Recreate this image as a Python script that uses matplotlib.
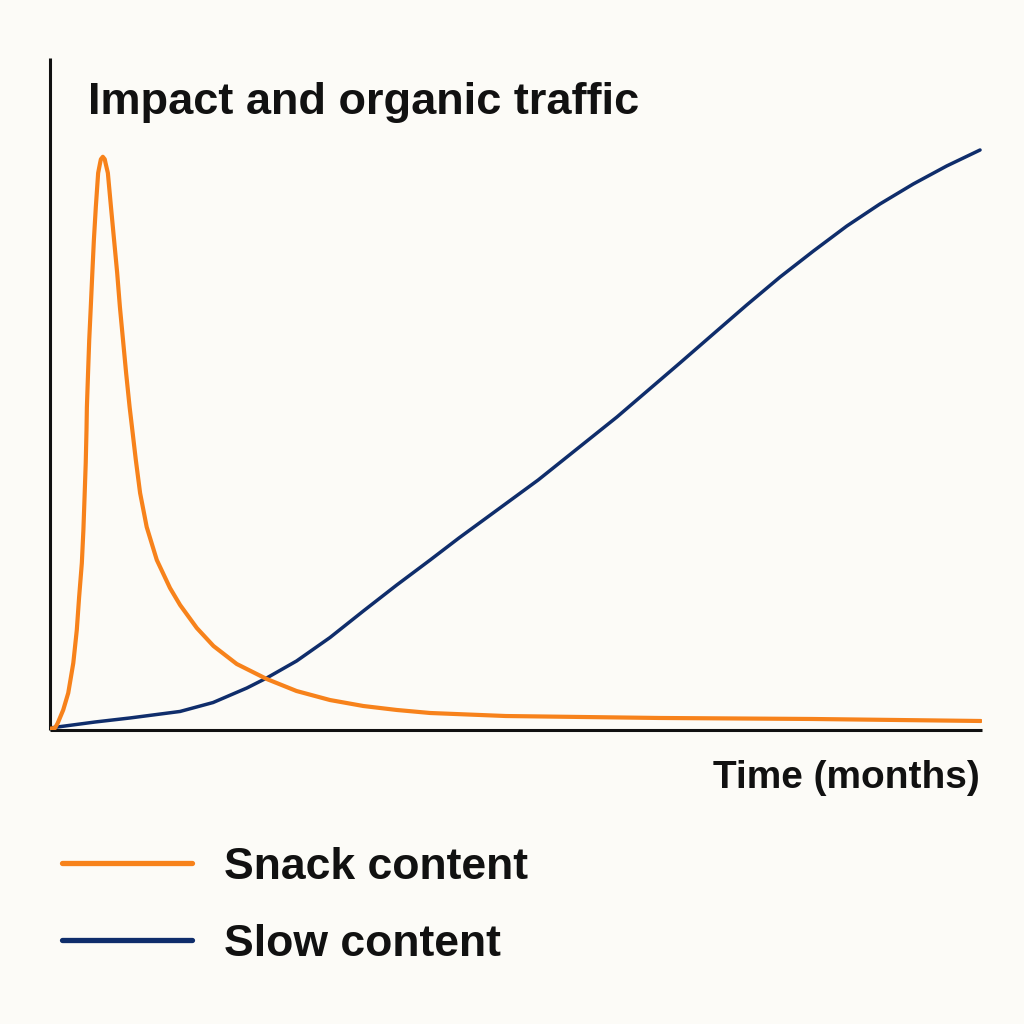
import matplotlib
matplotlib.use("Agg")
from matplotlib import pyplot as plt

# Valores (tempo em meses, impacto em escala 0-100)

snack_x = [0.0, 0.13, 0.20, 0.34, 0.47, 0.60, 0.69, 0.75, 0.82, 0.86, 0.89,
           0.92, 0.94, 0.95, 0.98, 1.01, 1.05, 1.09, 1.13, 1.18, 1.24, 1.29,
           1.31, 1.36, 1.41, 1.43, 1.49, 1.57, 1.65, 1.73, 1.80, 1.88, 1.96,
           2.05, 2.12, 2.21, 2.32, 2.49, 2.75, 3.09, 3.35, 3.78, 4.21, 4.81,
           5.58, 6.35, 7.21, 8.07, 8.93, 9.79, 11.74, 15.68, 19.62, 23.97]
snack_y = [0.2, 0.30, 1.04, 2.98, 5.51, 9.97, 14.88, 19.79, 24.85, 29.76,
           34.67, 39.73, 44.64, 48.07, 53.13, 58.04, 62.95, 68.01, 72.92,
           77.83, 82.89, 84.38, 84.93, 85.30, 84.93, 84.38, 82.89, 77.83,
           72.92, 68.01, 62.95, 58.04, 53.13, 48.07, 44.64, 40.18, 35.27,
           30.21, 25.30, 21.13, 18.60, 15.18, 12.50, 9.82, 7.59, 5.80, 4.46,
           3.57, 2.98, 2.53, 2.08, 1.79, 1.64, 1.34]

slow_x = [0.0, 1.16, 2.06, 3.35, 4.20, 5.07, 5.58, 6.35, 7.21, 8.07, 8.93,
          9.79, 10.53, 12.57, 14.60, 16.22, 17.08, 17.94, 18.80, 19.66,
          20.52, 21.37, 22.23, 23.09, 23.95]
slow_y = [0.3, 1.19, 1.79, 2.76, 4.09, 6.25, 7.74, 10.27, 13.76, 17.71,
          21.58, 25.30, 28.57, 37.20, 46.58, 54.61, 58.93, 63.24, 67.41,
          71.28, 75.00, 78.27, 81.25, 83.93, 86.31]

titulo = "Impact and organic traffic"
eixo_x = "Time (months)"
rotulos = ["Snack content", "Slow content"]

cor_fundo = "#fcfbf7"
cor_snack = "#f7821b"
cor_slow = "#0f2d6b"

plt.rcParams['font.family'] = ['Liberation Sans', 'DejaVu Sans']

fig = plt.figure(figsize=(10.24, 10.24), dpi=100, facecolor=cor_fundo)
W = H = 1024.0
ax = fig.add_axes([50 / W, (H - 730) / H, (982 - 50) / W, (730 - 58) / H])
ax.set_facecolor(cor_fundo)

ax.plot(snack_x, snack_y, color=cor_snack, lw=3.0, solid_capstyle='round',
        solid_joinstyle='round', label=rotulos[0], zorder=3)
ax.plot(slow_x, slow_y, color=cor_slow, lw=2.5, solid_capstyle='round',
        solid_joinstyle='round', label=rotulos[1], zorder=2)

ax.set_xlim(0, 24)
ax.set_ylim(0, 100)
ax.spines['top'].set_visible(False)
ax.spines['right'].set_visible(False)
for s in ['left', 'bottom']:
    ax.spines[s].set_linewidth(2.2)
    ax.spines[s].set_color('#111111')
    ax.spines[s].set_capstyle('butt')
ax.set_xticks([])
ax.set_yticks([])

fig.text(88 / W, (H - 114) / H, titulo, fontsize=32.5, fontweight='bold',
         ha='left', va='baseline', color='#111111')
fig.text(980 / W, (H - 788) / H, eixo_x, fontsize=28, fontweight='bold',
         ha='right', va='baseline', color='#111111')

leg = ax.legend(loc='upper left', bbox_to_anchor=(62 / W, (H - 847) / H),
                bbox_transform=fig.transFigure, frameon=False,
                prop={'size': 32, 'weight': 'bold'}, handlelength=2.93,
                handletextpad=0.72, labelspacing=0.8, borderpad=0,
                borderaxespad=0)
for linha in leg.get_lines():
    linha.set_linewidth(3.8)
for t in leg.get_texts():
    t.set_color('#111111')

plt.savefig('out.png', dpi=100, facecolor=cor_fundo)
